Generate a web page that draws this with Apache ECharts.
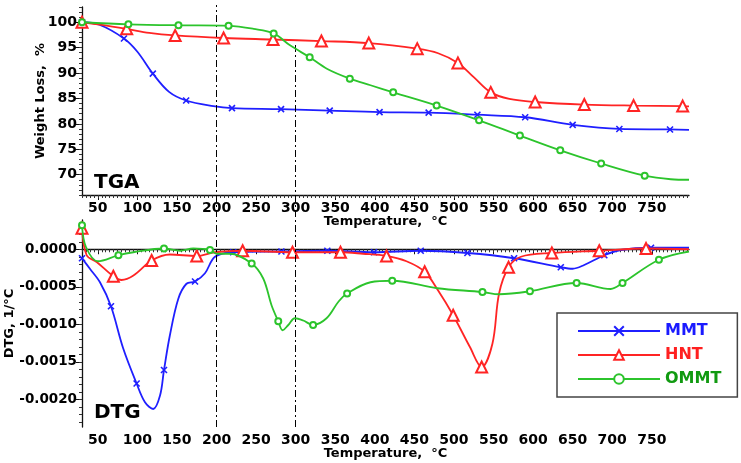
<!DOCTYPE html>
<html>
<head>
<meta charset="utf-8">
<script src="https://cdn.jsdelivr.net/npm/echarts@6/dist/echarts.min.js"></script>
<style>html,body{margin:0;padding:0;background:#fff}#c{width:741px;height:463px}</style>
</head>
<body>
<div id="c"></div>
<script>
// ---- data: [temperature °C, value, marker(1/0)] ----
const seriesNames = ['MMT', 'HNT', 'OMMT'];
const tgaMMT = [[30,100,1],[52,99.5,0],[83,96.8,1],[100,94.2,0],[119.5,89.9,1],[140,86.3,0],[161.6,84.6,1],[196,83.5,0],[219.5,83.1,1],[281.5,82.9,1],[343,82.6,1],[406,82.3,1],[468,82.2,1],[529.6,81.8,1],[590,81.3,1],[650,79.8,1],[709,79.0,1],[773,78.9,1],[797,78.8,0]];
const tgaHNT = [[30,100,1],[55,99.5,0],[86.5,98.7,1],[115,97.9,0],[147.7,97.4,1],[208.9,96.9,1],[271.4,96.6,1],[332.5,96.3,1],[392.4,95.9,1],[453.6,94.8,1],[480,93.9,0],[505,92.0,1],[525,89.2,0],[546.5,86.2,1],[570,84.9,0],[602.6,84.3,1],[664.7,83.8,1],[727,83.6,1],[789,83.5,1],[797,83.45,0]];
const tgaOMMT = [[30,100,1],[88.6,99.6,1],[151.9,99.4,1],[215.2,99.3,1],[246.9,98.7,0],[272.2,97.8,1],[293.3,95.4,0],[317.7,93.1,1],[340,90.8,0],[368.4,88.9,1],[394.6,87.6,0],[423.2,86.2,1],[478.1,83.6,1],[531.7,80.7,1],[583.3,77.7,1],[634.3,74.8,1],[686,72.2,1],[741,69.8,1],[774,69.1,0],[797,69.0,0]];
const dtgMMT = [[30,-0.00012,1],[40,-0.00026,0],[52.7,-0.00044,0],[66.6,-0.00076,1],[82,-0.00132,0],[99,-0.00179,1],[109.6,-0.00204,0],[120,-0.00213,0],[128.6,-0.00195,0],[133.6,-0.00161,1],[141,-0.00115,0],[151.7,-0.00066,0],[162,-0.00046,0],[172.8,-0.00043,1],[185.4,-0.00032,0],[198,-0.0001,0],[221,-0.00004,1],[282,-0.00003,1],[340,-0.00002,1],[399,-0.00004,1],[458,-0.00002,1],[517,-0.00005,1],[576,-0.00012,1],[635,-0.00024,1],[650,-0.00026,0],[664.6,-0.00021,0],[690,-0.00008,1],[711,-0.00001,0],[749,0.00002,1],[797,0.00002,0]];
const dtgHNT = [[30,0.00028,1],[35.9,-0.00008,0],[48.5,-0.00017,0],[69.6,-0.00036,1],[80,-0.00041,0],[95,-0.00035,0],[118,-0.00015,1],[141,-0.00007,0],[175,-0.00009,1],[198,-0.00004,0],[233,-0.00002,1],[296,-0.00004,1],[356.6,-0.00004,1],[385,-0.00006,0],[414.8,-0.00009,1],[440,-0.00016,0],[463,-0.0003,1],[480,-0.00055,0],[499,-0.00088,1],[520,-0.0013,0],[535,-0.00157,1],[548.6,-0.00126,0],[557,-0.00059,0],[569,-0.00024,1],[584.6,-0.0001,0],[623.7,-0.00005,1],[683.6,-0.00002,1],[742.7,0.00001,1],[797,0.0,0]];
const dtgOMMT = [[30,0.00032,1],[35,0.00003,0],[50,-0.00016,0],[76,-0.00008,1],[95,-0.00004,0],[133.6,0.00001,1],[154,-0.00002,0],[170.6,0.00001,0],[191.7,-0.00001,1],[200,-0.00006,0],[217,-0.00006,0],[244.4,-0.00019,1],[259,-0.00039,0],[269.6,-0.00075,0],[278,-0.00096,1],[283.5,-0.00108,0],[290.7,-0.00101,0],[299,-0.00092,0],[309.6,-0.00095,0],[322,-0.00101,1],[339,-0.00092,0],[354,-0.0007,0],[365,-0.00059,1],[394.6,-0.00044,0],[422,-0.00042,1],[479,-0.00052,0],[536,-0.00057,1],[557,-0.0006,0],[596,-0.00056,1],[655,-0.00045,1],[698,-0.00053,0],[713,-0.00045,1],[759,-0.00014,1],[797,-0.00003,0]];
const refTemps = [200, 300];
const xTickLabels = [50,100,150,200,250,300,350,400,450,500,550,600,650,700,750];
const tgaTickLabels = [70,75,80,85,90,95,100];
const dtgTickLabels = [-0.002,-0.0015,-0.001,-0.0005,0];

// ---- styling ----
const FONT = 'DejaVu Sans';
const colors = {MMT:'#1f1fff', HNT:'#ff2424', OMMT:'#2cc42c'};
const textColors = {MMT:'#1a1aff', HNT:'#ff2020', OMMT:'#119a11'};
const symbols = {MMT:'path://M0,0L10,10M10,0L0,10', HNT:'emptyTriangle', OMMT:'emptyCircle'};
const symSizes = {MMT:6, HNT:11, OMMT:6};

const X_MIN = 30, X_MAX = 797;
const range = (a, b, s) => { const r = []; const n = Math.round((b - a) / s); for (let i = 0; i <= n; i++) r.push(+(a + i * s).toFixed(6)); return r; };
const xMinor = range(30, 795, 5);
const tgaMinor = range(66, 103, 1);
const dtgMinor = range(-0.0023, 0.0003, 0.0001);

const GL = 82, GW = 607;
const grids = [
  {left: GL, width: GW, top: 7, height: 188, outerBoundsMode:'none', containLabel:false},
  {left: GL, width: GW, top: 220, height: 207, outerBoundsMode:'none', containLabel:false},
  {left: GL, width: GW, top: 5, height: 422, outerBoundsMode:'none', containLabel:false}
];
const lab = {color:'#000', fontFamily: FONT, fontWeight:'bold', fontSize:14};
const axLine = {show:true, lineStyle:{color:'#111', width:1.3}};

function mainX(gi){
  return {type:'value', gridIndex:gi, min:X_MIN, max:X_MAX, position:'bottom',
    name:'Temperature,  °C', nameLocation:'middle', nameGap:20, nameMoveOverlap:false,
    nameTextStyle:{color:'#000', fontFamily:FONT, fontWeight:'bold', fontSize:13},
    axisLine:axLine, splitLine:{show:false},
    axisTick:{show:true, customValues:xTickLabels, length:5, lineStyle:{color:'#111'}},
    axisLabel:Object.assign({customValues:xTickLabels, margin:6}, lab)};
}
function minorX(gi){
  return {type:'value', gridIndex:gi, min:X_MIN, max:X_MAX, position:'bottom',
    axisLine:{show:false}, splitLine:{show:false}, axisLabel:{show:false},
    axisTick:{show:true, customValues:xMinor, length:3, lineStyle:{color:'#333'}}};
}
const option = {
  backgroundColor:'#fff',
  animation:false,
  grid: grids,
  title: [
    {text:'TGA', left:89, top:168, textStyle:{fontFamily:FONT, fontSize:20, fontWeight:'bold', color:'#000'}},
    {text:'DTG', left:89, top:398, textStyle:{fontFamily:FONT, fontSize:20, fontWeight:'bold', color:'#000'}}
  ],
  legend: {
    left:557, top:313, orient:'vertical',
    padding:[10,16,10,20], itemGap:8, itemWidth:82, itemHeight:12,
    backgroundColor:'#fff', borderColor:'#444', borderWidth:1.5,
    data: seriesNames.map(n => ({name:n, textStyle:{color:textColors[n]}})),
    textStyle:{fontFamily:FONT, fontWeight:'bold', fontSize:16, lineHeight:14}
  },
  xAxis: [mainX(0), minorX(0), mainX(1), minorX(1),
    {type:'value', gridIndex:2, min:X_MIN, max:X_MAX, show:false}],
  yAxis: [
    {type:'value', gridIndex:0, min:66, max:103, position:'left',
      name:'Weight Loss,  %', nameLocation:'middle', nameGap:35, nameMoveOverlap:false,
      nameTextStyle:{color:'#000', fontFamily:FONT, fontWeight:'bold', fontSize:13},
      axisLine:axLine, splitLine:{show:false},
      axisTick:{show:true, customValues:tgaTickLabels, length:6, lineStyle:{color:'#111'}},
      axisLabel:Object.assign({customValues:tgaTickLabels, margin:5}, lab)},
    {type:'value', gridIndex:0, min:66, max:103, position:'left', axisLine:{show:false}, splitLine:{show:false}, axisLabel:{show:false},
      axisTick:{show:true, customValues:tgaMinor, length:3, lineStyle:{color:'#333'}}},
    {type:'value', gridIndex:1, min:-0.00237, max:0.00039, position:'left',
      name:'DTG, 1/°C', nameLocation:'middle', nameGap:66, nameMoveOverlap:false,
      nameTextStyle:{color:'#000', fontFamily:FONT, fontWeight:'bold', fontSize:13},
      axisLine:axLine, splitLine:{show:false},
      axisTick:{show:true, customValues:dtgTickLabels, length:6, lineStyle:{color:'#111'}},
      axisLabel:Object.assign({customValues:dtgTickLabels, margin:5, formatter:v => (v < 0 ? '-' : '') + Math.abs(v).toFixed(4)}, lab, {fontSize:13.5})},
    {type:'value', gridIndex:1, min:-0.00237, max:0.00039, position:'left', axisLine:{show:false}, splitLine:{show:false}, axisLabel:{show:false},
      axisTick:{show:true, customValues:dtgMinor, length:3, lineStyle:{color:'#333'}}},
    {type:'value', gridIndex:2, min:0, max:1, show:false}
  ],
  series: []
};

// reference dash-dot lines spanning both panels
option.series.push({
  type:'line', xAxisIndex:4, yAxisIndex:4, data:[], silent:true,
  markLine:{symbol:['none','none'], silent:true, label:{show:false},
    lineStyle:{color:'#000', width:1, type:[7,3,2,3]},
    data: refTemps.map((t, i) => [{coord:[t, 0]}, {coord:[t, i === 0 ? 1 : 0.91]}])}
});

function mkSeries(name, arr, xi, yi){
  return {
    name, type:'line', xAxisIndex:xi, yAxisIndex:yi, smooth:0.35,
    symbol:symbols[name], symbolSize:symSizes[name], showSymbol:true, showAllSymbol:true,
    lineStyle:{color:colors[name], width:1.8},
    itemStyle:{color:colors[name], borderColor:colors[name], borderWidth:1.6},
    data: arr.map(p => p[2] ? {value:[p[0], p[1]]} : {value:[p[0], p[1]], symbol:'none'}),
    z: name === 'MMT' ? 3 : (name === 'HNT' ? 4 : 5)
  };
}
option.series.push(mkSeries('MMT', tgaMMT, 0, 0));
option.series.push(mkSeries('HNT', tgaHNT, 0, 0));
option.series.push(mkSeries('OMMT', tgaOMMT, 0, 0));
option.series.push(mkSeries('MMT', dtgMMT, 2, 2));
option.series.push(mkSeries('HNT', dtgHNT, 2, 2));
option.series.push(mkSeries('OMMT', dtgOMMT, 2, 2));

const chart = echarts.init(document.getElementById('c'), null, {renderer:'canvas'});
chart.setOption(option);
</script>
</body>
</html>
